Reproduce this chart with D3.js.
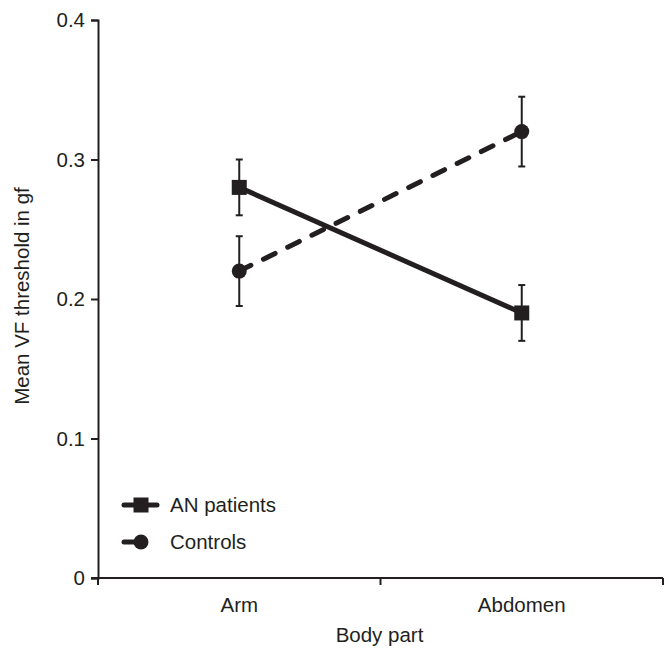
<!DOCTYPE html>
<html>
<head>
<meta charset="utf-8">
<script src="https://cdn.jsdelivr.net/npm/d3@7"></script>
<style>
  body { margin: 0; background: #fff; }
  text { font-family: "Liberation Sans", Arial, sans-serif; fill: #231f20; }
</style>
</head>
<body>
<svg id="chart" width="669" height="648"></svg>
<script>
// categories and series
const categories = ['Arm', 'Abdomen'];
const anMeans = [0.28, 0.19];
const anErr = [0.02, 0.02];
const ctrlMeans = [0.22, 0.32];
const ctrlErr = [0.025, 0.025];
const yTicks = [0, 0.1, 0.2, 0.3, 0.4];

const ink = '#231f20';
const fs = 20.5;
const svg = d3.select('#chart');
const margin = {left: 98, right: 6, top: 20, bottom: 70};
const W = 669, H = 648;

const x = d3.scaleBand().domain(categories)
  .range([margin.left, W - margin.right]);
const y = d3.scaleLinear().domain([0, 0.4])
  .range([H - margin.bottom, margin.top]);

// y axis
const yAxis = svg.append('g')
  .attr('transform', `translate(${margin.left},0)`)
  .call(d3.axisLeft(y).tickValues(yTicks).tickSize(7).tickPadding(6)
    .tickFormat(d => d === 0 ? '0' : d3.format('.1f')(d)));
yAxis.select('.domain').attr('stroke', ink).attr('stroke-width', 2);
yAxis.selectAll('.tick line').attr('stroke', ink).attr('stroke-width', 2);
yAxis.selectAll('.tick text').attr('font-size', fs).attr('fill', ink)
  .attr('font-family', '"Liberation Sans", Arial, sans-serif');

// x axis: ticks at band boundaries, labels at centres
const xBase = y(0);
svg.append('line')
  .attr('x1', margin.left - 7).attr('x2', W - margin.right)
  .attr('y1', xBase).attr('y2', xBase)
  .attr('stroke', ink).attr('stroke-width', 2);
const bounds = categories.map(c => x(c)).concat([x(categories[categories.length - 1]) + x.bandwidth()]);
svg.selectAll('.xtick').data(bounds).enter().append('line')
  .attr('x1', d => d).attr('x2', d => d)
  .attr('y1', xBase).attr('y2', xBase + 7)
  .attr('stroke', ink).attr('stroke-width', 2);
svg.selectAll('.xlabel').data(categories).enter().append('text')
  .attr('x', d => x(d) + x.bandwidth() / 2)
  .attr('y', xBase + 34)
  .attr('text-anchor', 'middle').attr('font-size', fs)
  .text(d => d);

svg.append('text')
  .attr('x', x.range()[0] + (x.range()[1] - x.range()[0]) / 2 - 1)
  .attr('y', 642).attr('text-anchor', 'middle').attr('font-size', fs)
  .text('Body part');

svg.append('text')
  .attr('transform', `translate(29,${(y(0) + y(0.4)) / 2 - 3}) rotate(-90)`)
  .attr('text-anchor', 'middle').attr('font-size', fs)
  .text('Mean VF threshold in gf');

const cx = c => x(c) + x.bandwidth() / 2;
const line = d3.line().x(d => cx(d.cat)).y(d => y(d.v));

function drawSeries(means, errs, dashed, marker) {
  const pts = categories.map((c, i) => ({cat: c, v: means[i], e: errs[i]}));
  // error bars
  const eb = svg.append('g');
  pts.forEach(p => {
    eb.append('line').attr('x1', cx(p.cat)).attr('x2', cx(p.cat))
      .attr('y1', y(p.v - p.e)).attr('y2', y(p.v + p.e))
      .attr('stroke', ink).attr('stroke-width', 2);
    [p.v - p.e, p.v + p.e].forEach(v => {
      eb.append('line').attr('x1', cx(p.cat) - 3.5).attr('x2', cx(p.cat) + 3.5)
        .attr('y1', y(v)).attr('y2', y(v))
        .attr('stroke', ink).attr('stroke-width', 2);
    });
  });
  svg.append('path').datum(pts)
    .attr('d', line).attr('fill', 'none').attr('stroke', ink)
    .attr('stroke-width', 5)
    .attr('stroke-linecap', dashed ? 'round' : 'butt')
    .attr('stroke-dasharray', dashed ? '13,14' : null);
  pts.forEach(p => drawMarker(marker, cx(p.cat), y(p.v)));
}

function drawMarker(marker, px, py) {
  if (marker === 'square') {
    svg.append('rect').attr('x', px - 7.5).attr('y', py - 7.5)
      .attr('width', 15).attr('height', 15).attr('fill', ink);
  } else {
    svg.append('circle').attr('cx', px).attr('cy', py).attr('r', 7.5).attr('fill', ink);
  }
}

drawSeries(anMeans, anErr, false, 'square');
drawSeries(ctrlMeans, ctrlErr, true, 'circle');

// legend
const legend = [
  {name: 'AN patients', marker: 'square', dashed: false, y: 505},
  {name: 'Controls', marker: 'circle', dashed: true, y: 542}
];
legend.forEach(l => {
  svg.append('line').attr('x1', 124).attr('x2', l.dashed ? 142 : 157)
    .attr('y1', l.y).attr('y2', l.y)
    .attr('stroke', ink).attr('stroke-width', 5).attr('stroke-linecap', 'round');
  drawMarker(l.marker, 141, l.y);
  svg.append('text').attr('x', 170).attr('y', l.y + 7)
    .attr('font-size', fs).text(l.name);
});
</script>
</body>
</html>
